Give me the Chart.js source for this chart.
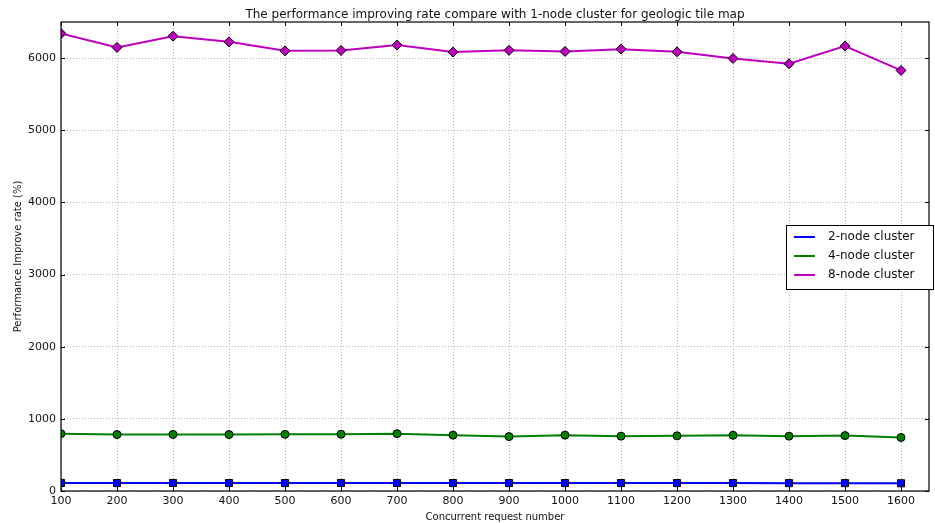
<!DOCTYPE html>
<html>
<head>
<meta charset="utf-8">
<script src="https://cdn.jsdelivr.net/npm/chart.js@4/dist/chart.umd.min.js"></script>
<style>
  html, body { margin: 0; padding: 0; background: #fff; }
  #wrap { width: 935px; height: 523px; }
</style>
</head>
<body>
<div id="wrap"><canvas id="c" width="935" height="523"></canvas></div>
<script>
// Concurrent request counts on the x axis
const requests = [100, 200, 300, 400, 500, 600, 700, 800, 900, 1000, 1100, 1200, 1300, 1400, 1500, 1600];

// Performance improve rate (%) relative to a single node
const node2 = [112, 110, 111, 110, 110, 111, 111, 110, 110, 110, 110, 110, 110, 109, 109, 107];
const node4 = [795, 782, 784, 782, 785, 787, 795, 774, 754, 774, 760, 764, 772, 760, 768, 742];
const node8 = [6340, 6148, 6303, 6225, 6100, 6106, 6180, 6083, 6108, 6092, 6124, 6087, 5995, 5921, 6166, 5829];

// Axis tick values
const xTicks = [100, 200, 300, 400, 500, 600, 700, 800, 900, 1000, 1100, 1200, 1300, 1400, 1500, 1600];
const yTicks = [0, 1000, 2000, 3000, 4000, 5000, 6000];

const seriesNames = ['2-node cluster', '4-node cluster', '8-node cluster'];
const titleText = 'The performance improving rate compare with 1-node cluster for geologic tile map';
const xTitle = 'Concurrent request number';
const yTitle = 'Performance Improve rate (%)';

const FONT = '"DejaVu Sans", sans-serif';

function toXY(vals) {
  return vals.map((v, i) => ({ x: requests[i], y: v }));
}

// Frame, tick marks, title and legend box drawn on top of the plot area
const framePlugin = {
  id: 'frame',
  afterDraw(chart) {
    const { ctx, chartArea: a } = chart;
    ctx.save();
    ctx.strokeStyle = '#000';
    ctx.lineWidth = 1.2;
    ctx.strokeRect(a.left, a.top, a.right - a.left, a.bottom - a.top);

    const xs = chart.scales.x, ys = chart.scales.y;
    ctx.lineWidth = 1;
    xTicks.forEach(v => {
      const px = Math.round(xs.getPixelForValue(v)) + 0.5;
      ctx.beginPath();
      ctx.moveTo(px, a.bottom); ctx.lineTo(px, a.bottom - 4);
      ctx.moveTo(px, a.top); ctx.lineTo(px, a.top + 4);
      ctx.stroke();
    });
    yTicks.forEach(v => {
      const py = Math.round(ys.getPixelForValue(v)) + 0.5;
      ctx.beginPath();
      ctx.moveTo(a.left, py); ctx.lineTo(a.left + 4, py);
      ctx.moveTo(a.right, py); ctx.lineTo(a.right - 4, py);
      ctx.stroke();
    });

    // title centred over the plot area
    ctx.fillStyle = '#111';
    ctx.font = '12px ' + FONT;
    ctx.textAlign = 'center';
    ctx.textBaseline = 'alphabetic';
    ctx.fillText(titleText, (a.left + a.right) / 2, a.top - 4);

    // legend
    const bx = 786, by = 225, bw = 147, bh = 64;
    ctx.fillStyle = '#fff';
    ctx.fillRect(bx, by, bw, bh);
    ctx.strokeStyle = '#000';
    ctx.lineWidth = 1;
    ctx.strokeRect(bx + 0.5, by + 0.5, bw, bh);
    ctx.font = '12px ' + FONT;
    ctx.textAlign = 'left';
    ctx.textBaseline = 'middle';
    chart.data.datasets.forEach((ds, i) => {
      const y = by + 12 + i * 19;
      ctx.strokeStyle = ds.borderColor;
      ctx.lineWidth = 2;
      ctx.beginPath();
      ctx.moveTo(bx + 8, y); ctx.lineTo(bx + 29, y);
      ctx.stroke();
      ctx.fillStyle = '#111';
      ctx.fillText(ds.label, bx + 42, y);
    });
    ctx.restore();
  }
};

const common = { borderWidth: 2, pointBorderColor: '#000', pointBorderWidth: 1, tension: 0 };

new Chart(document.getElementById('c'), {
  type: 'line',
  data: {
    datasets: [
      Object.assign({ label: seriesNames[0], data: toXY(node2), borderColor: '#0000ff', backgroundColor: '#0000ff', pointStyle: 'rect', pointRadius: 5 }, common),
      Object.assign({ label: seriesNames[1], data: toXY(node4), borderColor: '#008000', backgroundColor: '#008000', pointStyle: 'circle', pointRadius: 4 }, common),
      Object.assign({ label: seriesNames[2], data: toXY(node8), borderColor: '#bf00bf', backgroundColor: '#bf00bf', pointStyle: 'rectRot', pointRadius: 5 }, common)
    ]
  },
  options: {
    responsive: false,
    animation: false,
    layout: { padding: { top: 22, right: 2, left: 0, bottom: 0 } },
    plugins: {
      legend: { display: false },
      title: { display: false },
      tooltip: { enabled: false }
    },
    scales: {
      x: {
        type: 'linear',
        min: 100,
        max: 1650,
        afterFit(s) { s.height = 32; },
        afterBuildTicks(s) { s.ticks = xTicks.map(v => ({ value: v })); },
        ticks: {
          autoSkip: false,
          maxRotation: 0,
          padding: 4,
          color: '#111',
          font: { family: FONT, size: 11 },
          callback: v => String(v)
        },
        grid: { color: '#b0b0b0', lineWidth: 1, drawTicks: false },
        border: { display: false, dash: [1, 2] },
        title: { display: true, text: xTitle, color: '#111', font: { family: FONT, size: 10 }, padding: { top: 0, bottom: 0 } }
      },
      y: {
        min: 0,
        max: 6500,
        afterFit(s) { s.width = 61; },
        afterBuildTicks(s) { s.ticks = yTicks.map(v => ({ value: v })); },
        ticks: {
          padding: 5,
          color: '#111',
          font: { family: FONT, size: 11 },
          callback: v => String(v)
        },
        grid: { color: '#b0b0b0', lineWidth: 1, drawTicks: false },
        border: { display: false, dash: [1, 2] },
        title: { display: true, text: yTitle, color: '#111', font: { family: FONT, size: 10 }, padding: { top: 12, bottom: 0 } }
      }
    }
  },
  plugins: [framePlugin]
});
</script>
</body>
</html>
